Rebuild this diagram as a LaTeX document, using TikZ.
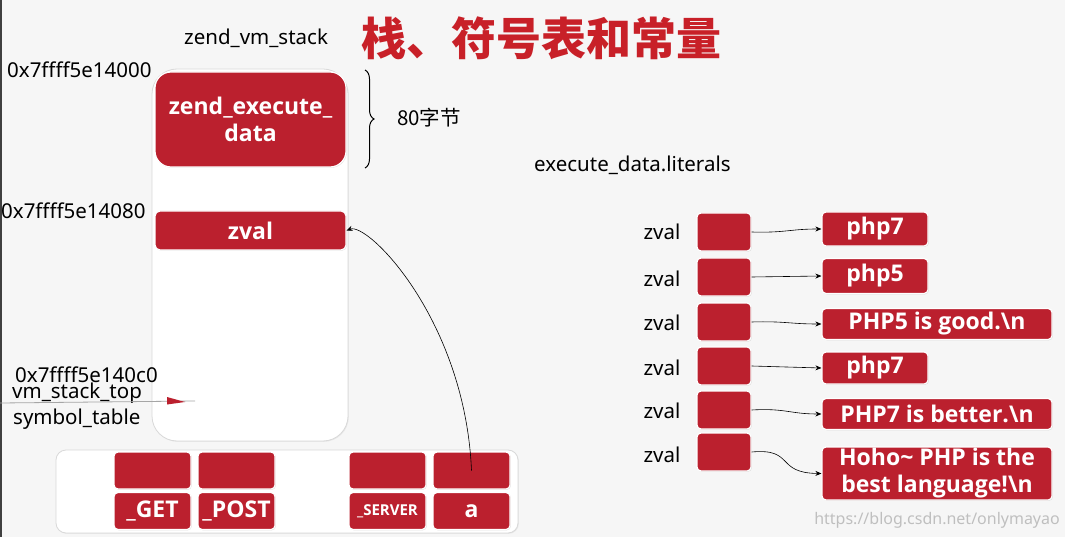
\documentclass[tikz,border=0pt]{standalone}
\usepackage{fontspec}
\setmainfont{Noto Sans}
\newfontfamily\boxfont{Open Sans}
\newfontfamily\cjk{Noto Sans CJK SC}
\usetikzlibrary{shadows,decorations.pathreplacing,arrows.meta}
\definecolor{boxred}{RGB}{187,32,46}
\definecolor{titlered}{RGB}{200,32,40}
\definecolor{bg}{RGB}{246,246,246}
\begin{document}
\begin{tikzpicture}[x=1pt,y=-1pt,
  rbox/.style={draw=white, line width=1.2pt, fill=boxred, text=white,
    font=\boxfont\bfseries\fontsize{23}{27}\selectfont, rounded corners=4pt, inner sep=0pt,
    align=center, drop shadow={shadow xshift=0.8pt, shadow yshift=-0.8pt, opacity=0.25}},
  outerbox/.style={draw=black!15, line width=0.8pt, fill=white, inner sep=0pt,
    drop shadow={shadow xshift=0.8pt, shadow yshift=-0.8pt, opacity=0.12}},
  lbl/.style={font=\fontsize{20.5}{22}\selectfont, inner sep=0pt},
  conn/.style={-{Stealth[length=6pt,width=5pt]}, line width=0.6pt}]
\useasboundingbox (0,0) rectangle (1065,537);
\fill[bg] (0,0) rectangle (1065,537);
\draw[black!75, line width=1.5pt] (1,0) -- (1,537);

% title
\node[font=\cjk\bfseries\fontsize{45}{50}\selectfont, text=titlered, anchor=west, inner sep=0pt] (title) at (361,38) {栈、符号表和常量};
\node[lbl, anchor=west] (vmstack) at (184,38) {zend\_vm\_stack};

% stack
\node[outerbox, rounded corners=25pt, minimum width=196, minimum height=372] (stack) at (250,255) {};
\node[rbox, rounded corners=16pt, minimum width=191, minimum height=95] (zed) at (250.5,119.5) {zend\_execute\_\\data};
\node[rbox, rounded corners=5pt, minimum width=191, minimum height=39] (zv) at (250.5,230.5) {zval};

\node[lbl, anchor=west] (addr0) at (7,70) {0x7ffff5e14000};
\node[lbl, anchor=west] (addr1) at (1,211) {0x7ffff5e14080};
\node[lbl, anchor=west] (addr2) at (15,375) {0x7ffff5e140c0};
\node[lbl, anchor=west] (vmtop) at (12,393) {vm\_stack\_top};
\node[lbl, anchor=west] (symt) at (13,419) {symbol\_table};

% brace
\draw[decorate, decoration={brace, amplitude=9pt}, line width=1pt] (365,70) -- (365,168);
\node[lbl, font=\cjk\fontsize{20.5}{22}\selectfont, anchor=west] (bytes) at (397,118) {80字节};

% vm_stack_top pointer
\coordinate (ptrA) at (0,403);
\coordinate (ptrB) at (195,401);
\draw[black!35, line width=0.8pt] (ptrA) -- (ptrB);
\fill[boxred] (167,397) -- (185,402) -- (167,404.5) -- cycle;

% symbol table
\node[outerbox, rounded corners=10pt, minimum width=462, minimum height=83] (symtab) at (287,491.5) {};
\node[rbox, minimum width=77, minimum height=37] (g1) at (152.5,470.5) {};
\node[rbox, minimum width=77, minimum height=37] (g2) at (152.5,511) {\_GET};
\node[rbox, minimum width=77, minimum height=37] (p1) at (236.5,470.5) {};
\node[rbox, minimum width=77, minimum height=37] (p2) at (236.5,511) {\_POST};
\node[rbox, minimum width=77, minimum height=37] (s1) at (387.5,470.5) {};
\node[rbox, minimum width=77, minimum height=37, font=\boxfont\bfseries\fontsize{15}{18}\selectfont] (s2) at (387.5,511) {\_SERVER};
\node[rbox, minimum width=77, minimum height=37] (a1) at (471.5,470.5) {};
\node[rbox, minimum width=77, minimum height=37] (a2) at (471.5,511) {a};

\draw[conn] (a1.center) .. controls (465,320) and (368,222) .. (zv.east);

% literals
\node[lbl, anchor=west] (lit) at (534,165) {execute\_data.literals};
\foreach \i/\y/\ly in {1/232/232, 2/277/279, 3/322/323, 4/366/368, 5/410/411, 6/452/455} {
  \node[rbox, minimum width=54, minimum height=38] (z\i) at (724,\y) {};
  \node[lbl] (zl\i) at (662,\ly) {zval};
}
\node[rbox, minimum width=106, minimum height=34] (v1) at (875,229) {php7};
\node[rbox, minimum width=106, minimum height=35] (v2) at (875,276) {php5};
\node[rbox, minimum width=230, minimum height=31] (v3) at (937,324) {PHP5 is good.\textbackslash n};
\node[rbox, minimum width=106, minimum height=32] (v4) at (875,368) {php7};
\node[rbox, minimum width=230, minimum height=31] (v5) at (937,414) {PHP7 is better.\textbackslash n};
\node[rbox, minimum width=230, minimum height=53, font=\boxfont\bfseries\fontsize{23}{27}\selectfont] (v6) at (937,473.5) {Hoho\textasciitilde{} PHP is the\\best language!\textbackslash n};

\draw[conn] (z1.east) .. controls (785,233) and (790,229) .. (v1.west);
\draw[conn] (z2.east) -- (v2.west);
\draw[conn] (z3.east) .. controls (785,321) and (790,324) .. (v3.west);
\draw[conn] (z4.east) -- (v4.west);
\draw[conn] (z5.east) .. controls (785,408) and (790,414) .. (v5.west);
\draw[conn] (z6.east) .. controls (795,448) and (775,473) .. (v6.west);

\node[font=\fontsize{16}{18}\selectfont, text=black!25, anchor=east, inner sep=0pt] (wm) at (1060,520) {https://blog.csdn.net/onlymayao};
\end{tikzpicture}
\end{document}
